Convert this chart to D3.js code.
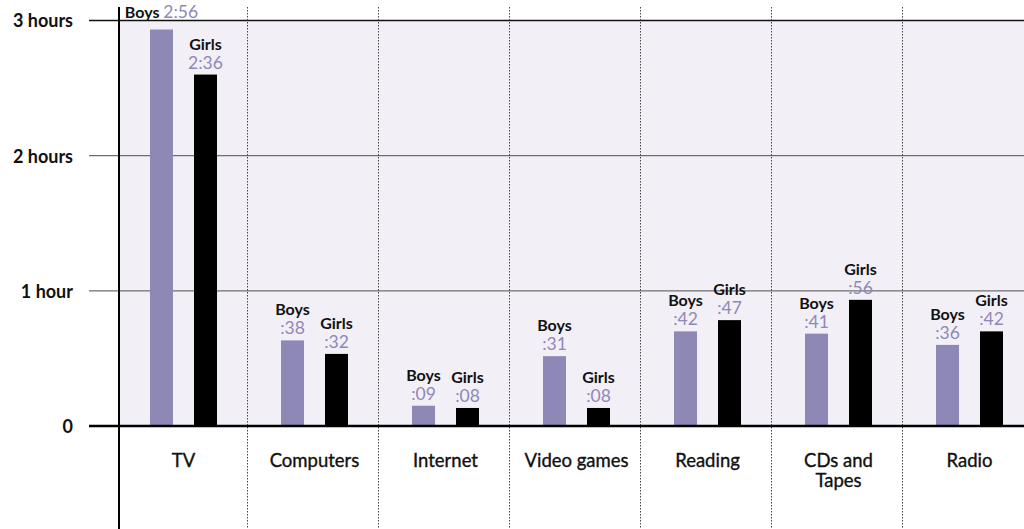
<!DOCTYPE html>
<html>
<head>
<meta charset="utf-8">
<script src="https://cdn.jsdelivr.net/npm/d3@7"></script>
<style>
  html, body { margin: 0; padding: 0; background: #ffffff; }
  svg { display: block; font-family: Lato, "Noto Sans", sans-serif; }
</style>
</head>
<body>
<svg id="chart" width="1024" height="529"></svg>
<script>
// Average daily media time (minutes) by activity
const categories = ["TV", "Computers", "Internet", "Video games", "Reading", "CDs and\nTapes", "Radio"];
const boysMinutes = [176, 38, 9, 31, 42, 41, 36];
const girlsMinutes = [156, 32, 8, 8, 47, 56, 42];
const tickMinutes = [0, 60, 120, 180];
const tickLabels = ["0", "1 hour", "2 hours", "3 hours"];
const seriesNames = ["Boys", "Girls"];

const W = 1024, H = 529;
const BAR_BOYS = "#8e88b6";
const BG_PLOT = "#f2f0f6";

const svg = d3.select("#chart");

const x = d3.scaleBand()
  .domain(categories)
  .range([116, 116 + 131 * categories.length])
  .paddingInner(0).paddingOuter(0);

const y = d3.scaleLinear().domain([0, 180]).range([426, 20.5]);

const barW = 23;
const offsets = [34, 78];

// plot background
svg.append("rect")
  .attr("x", 120).attr("y", y(180))
  .attr("width", W - 120).attr("height", y(0) - y(180))
  .attr("fill", BG_PLOT);

// horizontal grid lines with hour labels
const grid = svg.append("g");
tickMinutes.forEach((m, i) => {
  const top = i === tickMinutes.length - 1;
  if (m !== 0) {
    grid.append("line")
      .attr("x1", 89).attr("x2", W)
      .attr("y1", y(m)).attr("y2", y(m))
      .attr("stroke", top ? "#111" : "#6e6e6e")
      .attr("stroke-width", top ? 1.3 : 1.2);
  }
  grid.append("text")
    .attr("x", 73).attr("y", y(m)).attr("dy", "0.38em")
    .attr("text-anchor", "end")
    .attr("font-size", 18).attr("font-weight", 700)
    .attr("fill", "#111")
    .text(tickLabels[i]);
});

// dotted separators between activities
svg.append("g").selectAll("line")
  .data(categories.slice(1))
  .join("line")
  .attr("x1", d => x(d) + 0.5).attr("x2", d => x(d) + 0.5)
  .attr("y1", 7).attr("y2", H)
  .attr("stroke", "#444").attr("stroke-width", 1)
  .attr("stroke-dasharray", "1.5,1.5");

// bars
const rows = categories.map((c, i) => ({ cat: c, vals: [boysMinutes[i], girlsMinutes[i]] }));
const fmt = m => (m >= 60 ? Math.floor(m / 60) : "") + ":" + String(m % 60).padStart(2, "0");

const bars = svg.append("g");
const labels = svg.append("g");
rows.forEach(r => {
  r.vals.forEach((v, s) => {
    const bx = x(r.cat) + offsets[s];
    const top = y(v);
    bars.append("rect")
      .attr("x", bx).attr("y", top)
      .attr("width", barW).attr("height", y(0) - top)
      .attr("fill", s === 0 ? BAR_BOYS : "#000");

    const cx = bx + barW / 2;
    const nameY = top - 25;
    if (nameY - 12 >= 2) {
      // stacked: series name over the value
      labels.append("text")
        .attr("x", cx).attr("y", nameY)
        .attr("text-anchor", "middle")
        .attr("font-size", 16).attr("font-weight", 700)
        .attr("fill", "#111")
        .text(seriesNames[s]);
      labels.append("text")
        .attr("x", cx).attr("y", top - 6)
        .attr("text-anchor", "middle")
        .attr("font-size", 17.5)
        .attr("fill", BAR_BOYS)
        .text(fmt(v));
    } else {
      // not enough headroom: one line above the top rule
      const t = labels.append("text")
        .attr("x", cx).attr("y", Math.min(top - 8, y(180) - 3))
        .attr("text-anchor", "middle");
      t.append("tspan")
        .attr("font-size", 16).attr("font-weight", 700).attr("fill", "#111")
        .text(seriesNames[s] + " ");
      t.append("tspan")
        .attr("font-size", 17.5).attr("fill", BAR_BOYS)
        .text(fmt(v));
    }
  });
});

// zero baseline
svg.append("line")
  .attr("x1", 89).attr("x2", W)
  .attr("y1", y(0)).attr("y2", y(0))
  .attr("stroke", "#000").attr("stroke-width", 2.5);

// vertical axis
svg.append("line")
  .attr("x1", 119).attr("x2", 119)
  .attr("y1", 7).attr("y2", H)
  .attr("stroke", "#000").attr("stroke-width", 2);

// activity labels
svg.append("g").selectAll("text")
  .data(categories)
  .join("text")
  .attr("x", d => x(d) + 67.5)
  .attr("y", 467)
  .attr("text-anchor", "middle")
  .attr("font-size", 18.5)
  .attr("fill", "#111")
  .attr("stroke", "#111").attr("stroke-width", 0.35)
  .each(function (d) {
    d.split("\n").forEach((line, k) => {
      d3.select(this).append("tspan")
        .attr("x", x(d) + 67.5)
        .attr("dy", k === 0 ? 0 : 20)
        .text(line);
    });
  });
</script>
</body>
</html>
